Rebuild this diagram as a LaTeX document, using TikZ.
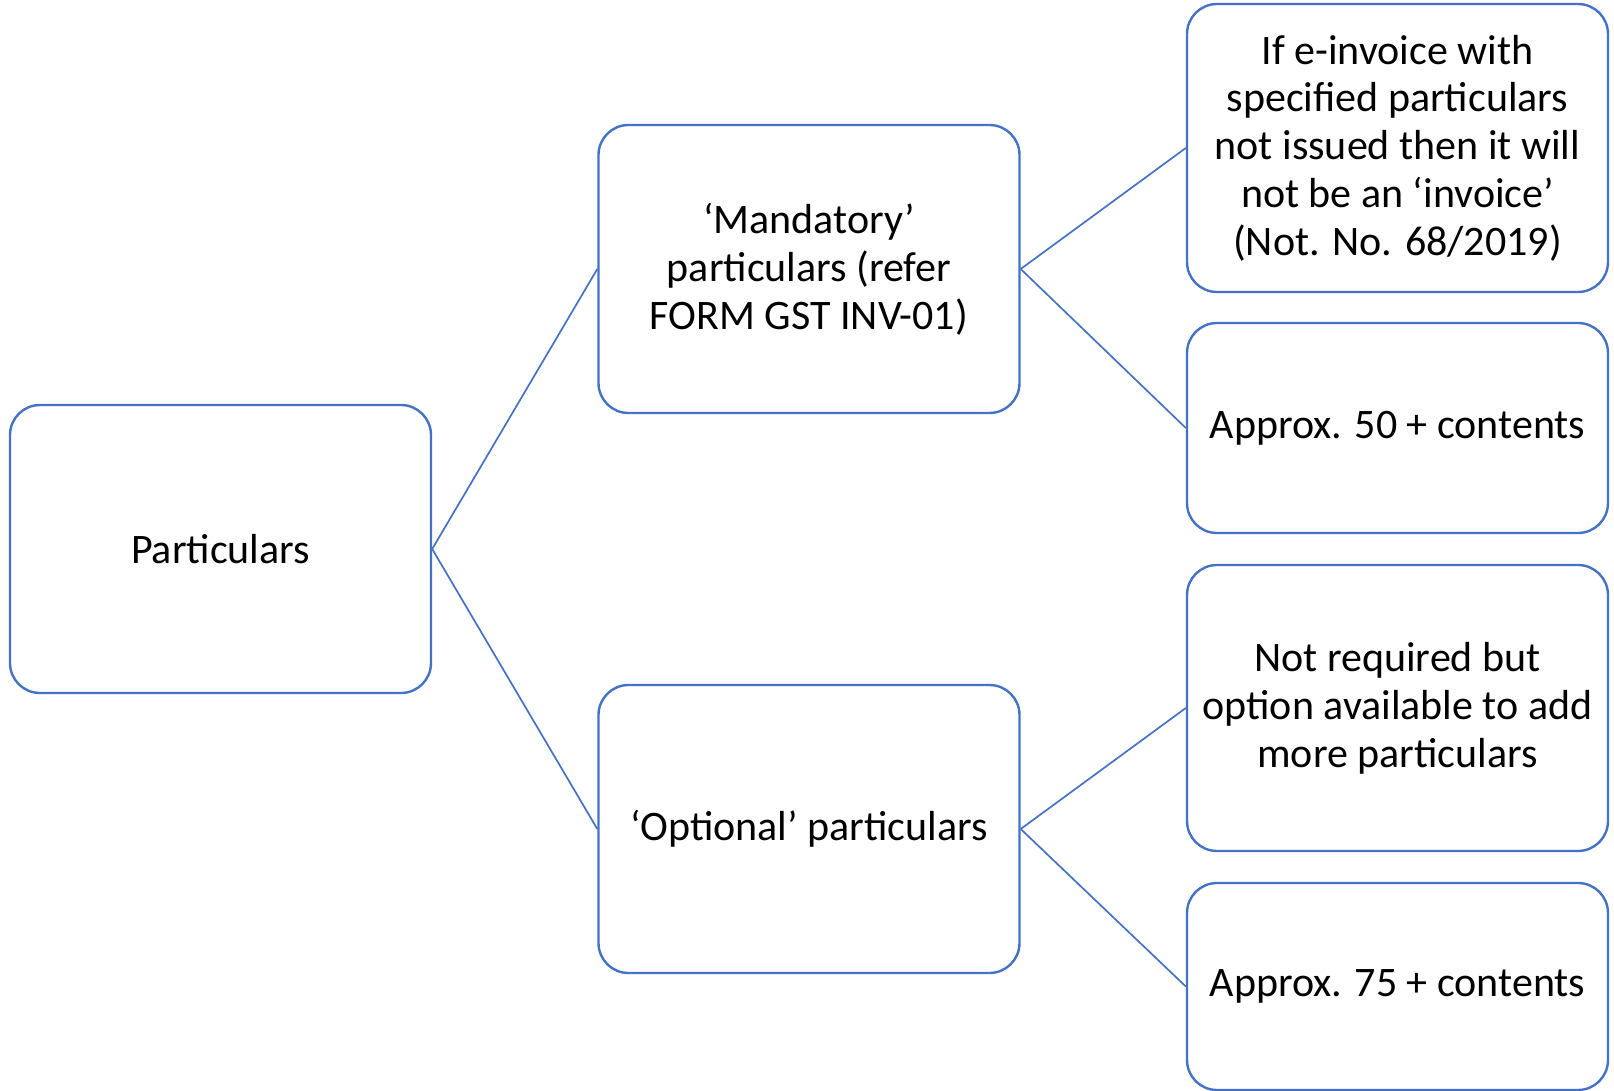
\documentclass[tikz,border=0pt]{standalone}
\usepackage{fontspec}
\setmainfont{Carlito}
\definecolor{boxblue}{HTML}{4472C4}
\begin{document}
\begin{tikzpicture}[x=1pt,y=-1pt,
  box/.style={draw=boxblue, line width=2.4pt, rounded corners=30pt, fill=white,
    align=center, inner sep=0pt, minimum width=421pt,
    font=\fontsize{42}{47.8}\selectfont},
  link/.style={draw=boxblue, line width=1.7pt}]
\useasboundingbox (0,0) rectangle (1614,1091);

% first level
\node[box, minimum height=288pt] (root) at (220.5,549) {Particulars};

% second level
\node[box, minimum height=288pt] (mand) at (809,269)
  {‘Mandatory’\\particulars (refer\\FORM GST INV-01)};
\node[box, minimum height=288pt] (opt) at (809,829)
  {‘Optional’ particulars};

% third level
\node[box, minimum height=288pt] (einv) at (1397.5,148)
  {If e-invoice with\\specified particulars\\not issued then it will\\not be an ‘invoice’\\(Not. No. 68/2019)};
\node[box, minimum height=210pt] (fifty) at (1397.5,428)
  {Approx. 50 + contents};
\node[box, minimum height=286pt] (more) at (1397.5,708)
  {Not required but\\option available to add\\more particulars};
\node[box, minimum height=207pt] (seventy) at (1397.5,986.5)
  {Approx. 75 + contents};

% connectors
\draw[link] (root.east) -- (mand.west);
\draw[link] (root.east) -- (opt.west);
\draw[link] (mand.east) -- (einv.west);
\draw[link] (mand.east) -- (fifty.west);
\draw[link] (opt.east) -- (more.west);
\draw[link] (opt.east) -- (seventy.west);
\end{tikzpicture}
\end{document}
